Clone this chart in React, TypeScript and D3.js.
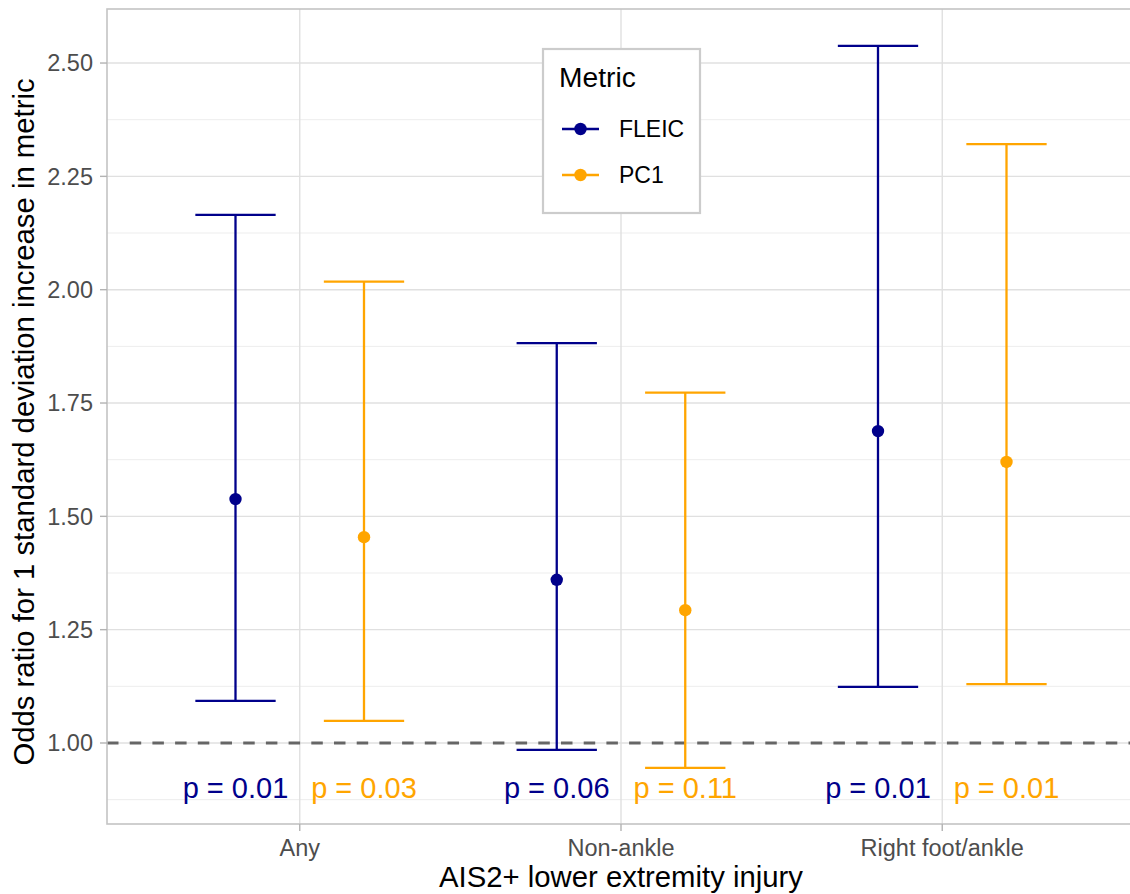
import React from "react";
import * as d3 from "d3";

// Injury categories on the x axis
const categories = ["Any", "Non-ankle", "Right foot/ankle"];
const metrics = ["FLEIC", "PC1"];
const metricColors = ["#00008B", "#FFA500"];

// Odds ratios with 95% confidence limits, per metric, in category order
const fleicOR = [1.538, 1.36, 1.688];
const fleicLower = [1.093, 0.985, 1.124];
const fleicUpper = [2.165, 1.882, 2.538];
const pc1OR = [1.454, 1.293, 1.62];
const pc1Lower = [1.049, 0.945, 1.13];
const pc1Upper = [2.018, 1.773, 2.321];
const fleicP = ["0.01", "0.06", "0.01"];
const pc1P = ["0.03", "0.11", "0.01"];

const yTicks = [1.0, 1.25, 1.5, 1.75, 2.0, 2.25, 2.5];
const yMinorTicks = [0.875, 1.125, 1.375, 1.625, 1.875, 2.125, 2.375, 2.625];
const pLabelY = 0.9;
const refLine = 1.0;

const W = 1130;
const H = 894;
const panel = { left: 107, right: 1135, top: 9, bottom: 824 };
const FONT = "'Liberation Sans', Arial, Helvetica, sans-serif";

export default function App() {
  const x = d3
    .scalePoint<string>()
    .domain(categories)
    .range([panel.left, panel.right])
    .padding(0.6);
  const step = x.step();
  const y = d3
    .scaleLinear()
    .domain([0.8213, 2.6192])
    .range([panel.bottom, panel.top]);

  // side-by-side placement of the two metrics within a category
  const dodge = d3
    .scaleBand<string>()
    .domain(metrics)
    .range([-step * 0.4, step * 0.4])
    .padding(0);

  const series = [
    { name: metrics[0], color: metricColors[0], or: fleicOR, lo: fleicLower, hi: fleicUpper, p: fleicP },
    { name: metrics[1], color: metricColors[1], or: pc1OR, lo: pc1Lower, hi: pc1Upper, p: pc1P },
  ];

  const off = (m: string) => (dodge(m) ?? 0) + dodge.bandwidth() / 2;
  const capHalf = step * 0.125;

  return (
    <svg
      width={W}
      height={H}
      style={{ position: "absolute", left: 0, top: 0, background: "#fff" }}
      fontFamily={FONT}
    >
      <defs>
        <clipPath id="pclip">
          <rect x={panel.left} y={panel.top} width={W - panel.left} height={panel.bottom - panel.top} />
        </clipPath>
      </defs>
      <rect x={0} y={0} width={W} height={H} fill="#fff" />
      {/* grid */}
      <g clipPath="url(#pclip)">
        {yMinorTicks.map((t) => (
          <line key={"mn" + t} x1={panel.left} x2={panel.right} y1={y(t)} y2={y(t)} stroke="#EDEDED" strokeWidth={1} />
        ))}
        {yTicks.map((t) => (
          <line key={"mj" + t} x1={panel.left} x2={panel.right} y1={y(t)} y2={y(t)} stroke="#E0E0E0" strokeWidth={1.4} />
        ))}
        {categories.map((c) => (
          <line key={"vx" + c} x1={x(c)} x2={x(c)} y1={panel.top} y2={panel.bottom} stroke="#E0E0E0" strokeWidth={1.4} />
        ))}
        {/* reference line at OR = 1 */}
        <line
          x1={panel.left}
          x2={panel.right}
          y1={y(refLine)}
          y2={y(refLine)}
          stroke="#666666"
          strokeWidth={2.8}
          strokeDasharray="11.5,11.2"
        />
        {/* error bars and points */}
        {series.map((s) =>
          categories.map((c, i) => {
            const cx = (x(c) ?? 0) + off(s.name);
            return (
              <g key={s.name + c}>
                <line x1={cx} x2={cx} y1={y(s.lo[i])} y2={y(s.hi[i])} stroke={s.color} strokeWidth={2.3} />
                <line x1={cx - capHalf} x2={cx + capHalf} y1={y(s.hi[i])} y2={y(s.hi[i])} stroke={s.color} strokeWidth={2.3} />
                <line x1={cx - capHalf} x2={cx + capHalf} y1={y(s.lo[i])} y2={y(s.lo[i])} stroke={s.color} strokeWidth={2.3} />
                <circle cx={cx} cy={y(s.or[i])} r={6.2} fill={s.color} />
                <text
                  x={cx}
                  y={y(pLabelY)}
                  dy="0.35em"
                  textAnchor="middle"
                  fontSize={29}
                  fill={s.color}
                >
                  {"p = " + s.p[i]}
                </text>
              </g>
            );
          })
        )}
      </g>
      {/* panel border */}
      <rect
        x={panel.left}
        y={panel.top}
        width={panel.right - panel.left}
        height={panel.bottom - panel.top}
        fill="none"
        stroke="#C4C4C4"
        strokeWidth={1.6}
      />
      {/* y axis */}
      {yTicks.map((t) => (
        <g key={"yt" + t}>
          <line x1={panel.left - 7} x2={panel.left} y1={y(t)} y2={y(t)} stroke="#B3B3B3" strokeWidth={1.4} />
          <text x={panel.left - 14} y={y(t)} dy="0.36em" textAnchor="end" fontSize={23.5} fill="#4D4D4D">
            {d3.format(".2f")(t)}
          </text>
        </g>
      ))}
      {/* x axis */}
      {categories.map((c) => (
        <g key={"xt" + c}>
          <line x1={x(c)} x2={x(c)} y1={panel.bottom} y2={panel.bottom + 7} stroke="#B3B3B3" strokeWidth={1.4} />
          <text x={x(c)} y={856} textAnchor="middle" fontSize={23.5} fill="#4D4D4D">
            {c}
          </text>
        </g>
      ))}
      <text x={(panel.left + panel.right) / 2} y={887} textAnchor="middle" fontSize={29.3} fill="#000">
        AIS2+ lower extremity injury
      </text>
      <text
        transform={`translate(34, 422) rotate(-90)`}
        textAnchor="middle"
        fontSize={29.3}
        fill="#000"
      >
        Odds ratio for 1 standard deviation increase in metric
      </text>
      {/* legend */}
      <g>
        <rect x={543} y={49} width={157} height={164} fill="#fff" stroke="#CCCCCC" strokeWidth={2.2} />
        <text x={559} y={87} fontSize={28.2} fill="#000">
          Metric
        </text>
        {series.map((s, i) => {
          const ly = 129 + i * 46;
          return (
            <g key={"lg" + s.name}>
              <line x1={562} x2={599} y1={ly} y2={ly} stroke={s.color} strokeWidth={2.3} />
              <circle cx={580.5} cy={ly} r={6.2} fill={s.color} />
              <text x={619} y={ly} dy="0.36em" fontSize={23} fill="#000">
                {s.name}
              </text>
            </g>
          );
        })}
      </g>
    </svg>
  );
}
